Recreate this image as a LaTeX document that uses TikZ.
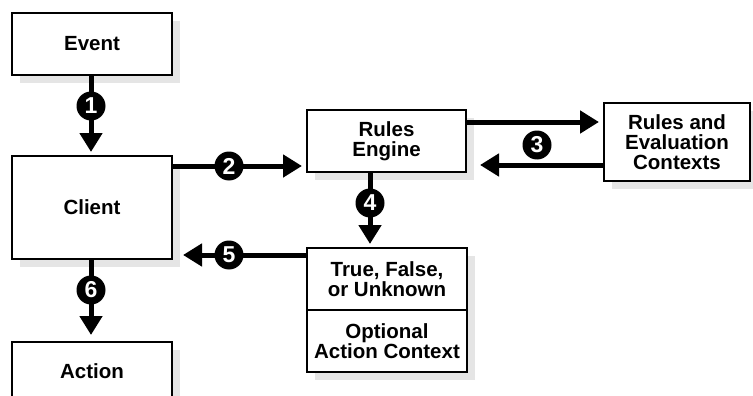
\documentclass[tikz,border=0pt]{standalone}
\usepackage{fontspec}
\setmainfont{Liberation Sans}
\usetikzlibrary{arrows.meta,shadows,calc}
\begin{document}
\begin{tikzpicture}[x=1pt,y=-1pt,
  box/.style={draw, line width=2pt, fill=white, inner sep=0pt, align=center,
     font=\fontsize{20.5}{20}\selectfont\bfseries,
     general shadow={shadow xshift=8pt, shadow yshift=-8pt, fill=black!10}},
  arr/.style={line width=5pt, -{Triangle[length=19pt,width=22pt]}},
  num/.style={circle, fill=black, minimum size=29pt, inner sep=0pt, text=white,
     font=\fontsize{23}{23}\selectfont\bfseries}
]
\useasboundingbox (0,0) rectangle (753,396);
\clip (0,0) rectangle (753,396);

% boxes
\node[box, minimum width=160pt, minimum height=62pt] (event) at (92,44) {Event};
\node[box, minimum width=160pt, minimum height=103pt] (client) at (92,207.5) {Client};
\node[box, minimum width=159pt, minimum height=62pt] (engine) at (386.5,141) {Rules\\Engine};
\node[box, minimum width=146pt, minimum height=78pt] (ctx) at (677,142) {Rules and\\Evaluation\\Contexts};
\node[box, minimum width=160pt, minimum height=62pt] (result) at (387,279) {True, False,\\or Unknown};
\node[box, minimum width=160pt, minimum height=62pt] (opt) at (387,341) {Optional\\Action Context};
\node[box, minimum width=160pt, minimum height=69pt, anchor=north, text height=14.5pt, text depth=11.5pt] (action) at (92,341) {Action};

% positions of the step numbers
\coordinate (p1) at (91,106);
\coordinate (p2) at (229,166);
\coordinate (p3) at (537,145);
\coordinate (p4) at (370,203);
\coordinate (p5) at (229,255);
\coordinate (p6) at (91,290);
\coordinate (r3a) at (0,122);
\coordinate (r3b) at (0,165);

% connectors
\draw[arr, shorten >=3pt] (event.south -| p1) -- (client.north -| p1);
\draw[arr, shorten >=4pt] (client.east |- p2) -- (engine.west |- p2);
\draw[arr, shorten >=4pt] (engine.east |- r3a) -- (ctx.west |- r3a);
\draw[arr, shorten >=13pt] (ctx.west |- r3b) -- (engine.east |- r3b);
\draw[arr, shorten >=3pt] (engine.south -| p4) -- (result.north -| p4);
\draw[arr, shorten >=10pt] (result.west |- p5) -- (client.east |- p5);
\draw[arr, shorten >=6pt] (client.south -| p6) -- (action.north -| p6);

% step numbers
\node[num] (n1) at (p1) {1};
\node[num] (n2) at (p2) {2};
\node[num] (n3) at (p3) {3};
\node[num] (n4) at (p4) {4};
\node[num] (n5) at (p5) {5};
\node[num] (n6) at (p6) {6};
\end{tikzpicture}
\end{document}
